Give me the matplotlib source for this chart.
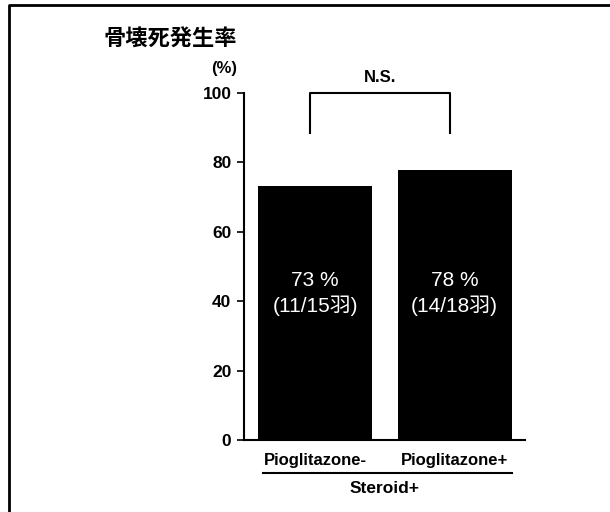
import matplotlib
matplotlib.use("Agg")
import matplotlib.pyplot as plt
from matplotlib.lines import Line2D
from matplotlib.transforms import blended_transform_factory

plt.rcParams['font.family'] = ['Liberation Sans', 'Noto Sans CJK JP', 'DejaVu Sans']

# Data
groups = ["Pioglitazone-", "Pioglitazone+"]
incidence = [11 / 15 * 100, 14 / 18 * 100]
pct_labels = ["73 %", "78 %"]
count_labels = ["(11/15羽)", "(14/18羽)"]
yticks = [0, 20, 40, 60, 80, 100]
group_label = "Steroid+"
title = "骨壊死発生率"
unit = "(%)"
sig_label = "N.S."

W, H = 610, 512
fig = plt.figure(figsize=(W / 100, H / 100), dpi=100)
ax = fig.add_axes([244 / W, 1 - 440 / H, (525 - 244) / W, (440 - 93) / H])

x = list(range(len(groups)))
ax.bar(x, incidence, width=0.817, color="black", zorder=2)

ax.set_xlim(-0.509, 1.505)
ax.set_ylim(0, 100)
ax.set_yticks(yticks)
ax.set_yticklabels([str(t) for t in yticks], fontsize=12.5, fontweight="bold")
ax.set_xticks(x)
ax.set_xticklabels(groups, fontsize=12, fontweight="bold")
ax.tick_params(axis="y", length=5, width=1.2, pad=4, direction="out")
ax.tick_params(axis="x", length=0, pad=9)

for side in ("top", "right"):
    ax.spines[side].set_visible(False)
ax.spines["left"].set_linewidth(1.5)
ax.spines["bottom"].set_linewidth(1.5)

# Labels inside bars
for xi, p, c in zip(x, pct_labels, count_labels):
    ax.text(xi, 46.1, p, color="white", fontsize=15, ha="center", va="center")
    ax.text(xi, 38.6, c, color="white", fontsize=15, ha="center", va="center")

# Significance bracket
off = -0.035
ax.plot([x[0] + off, x[0] + off, x[1] + off, x[1] + off],
        [88.5, 100.1, 100.1, 88.5], color="black", lw=1.5, clip_on=False)
ax.text((x[0] + x[1]) / 2 + off, 104.6, sig_label, fontsize=12, fontweight="bold",
        ha="center", va="center")

# Group line and label below tick labels
tr = blended_transform_factory(ax.transData, ax.transAxes)
ax.add_line(Line2D([-0.373, 1.412], [-0.095, -0.095], transform=tr, color="black",
                   lw=1.5, clip_on=False))
ax.text(0.5, -0.141, group_label, transform=tr, fontsize=12.5, fontweight="bold",
        ha="center", va="center")

# Axis title
fig.text(237 / W, 1 - 40 / H, title, fontsize=16, fontweight="bold",
         ha="right", va="center")
fig.text(237 / W, 1 - 69 / H, unit, fontsize=12, fontweight="bold",
         ha="right", va="center")

# Panel border
fig.add_artist(Line2D([9 / W, 9 / W, 1.0], [0.0, 1 - 5 / H, 1 - 5 / H],
                      transform=fig.transFigure, color="black", lw=2))

fig.savefig("out.png", dpi=100)
